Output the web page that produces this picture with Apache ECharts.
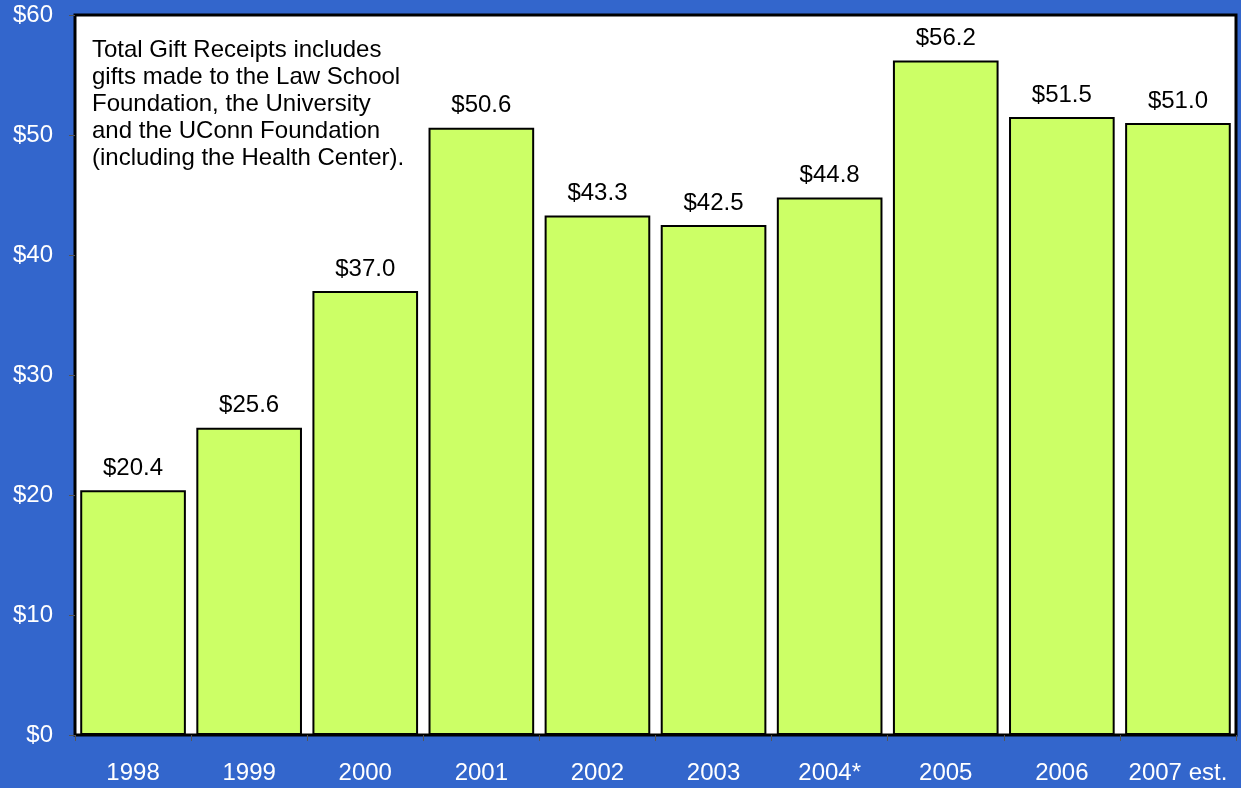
<!DOCTYPE html>
<html>
<head>
<meta charset="utf-8">
<script src="https://cdn.jsdelivr.net/npm/echarts@6/dist/echarts.min.js"></script>
<style>
  html, body { margin: 0; padding: 0; background: #3366cc; }
  #chart { width: 1241px; height: 788px; }
</style>
</head>
<body>
<div id="chart"></div>
<script>
const years = ['1998', '1999', '2000', '2001', '2002', '2003', '2004*', '2005', '2006', '2007 est.']
const gifts = [20.4, 25.6, 37.0, 50.6, 43.3, 42.5, 44.8, 56.2, 51.5, 51.0]
const noteLines = [
  'Total Gift Receipts includes',
  'gifts made to the Law School',
  'Foundation, the University',
  'and the UConn Foundation',
  '(including the Health Center).'
]

const chart = echarts.init(document.getElementById('chart'))

const option = {
  backgroundColor: '#3366cc',
  animation: false,
  textStyle: { fontFamily: 'Liberation Sans, Arial, sans-serif' },
  grid: {
    left: 75, right: 5, top: 15, bottom: 53,
    show: true,
    backgroundColor: '#ffffff',
    borderColor: '#000000',
    borderWidth: 3
  },
  graphic: [{
    type: 'text',
    left: 92,
    top: 37,
    style: {
      text: noteLines.join('\n'),
      fill: '#000',
      font: '24px Liberation Sans, Arial, sans-serif',
      lineHeight: 27
    }
  }],
  xAxis: {
    type: 'category',
    data: years,
    axisLine: { show: false },
    axisTick: { show: true, length: 6, lineStyle: { color: '#555' } },
    axisLabel: { color: '#ffffff', fontSize: 24, margin: 26, interval: 0 }
  },
  yAxis: {
    type: 'value',
    min: 0,
    max: 60,
    interval: 10,
    axisLine: { show: false },
    axisTick: { show: true, length: 6, lineStyle: { color: '#555' } },
    splitLine: { show: false },
    axisLabel: {
      color: '#ffffff',
      fontSize: 24,
      margin: 22,
      formatter: v => '$' + v
    }
  },
  series: [{
    type: 'bar',
    data: gifts,
    barCategoryGap: '9%',
    itemStyle: { color: '#ccff66', borderColor: '#000', borderWidth: 2 },
    label: {
      show: true,
      position: 'top',
      distance: 10,
      color: '#000',
      fontSize: 24,
      formatter: p => '$' + p.value.toFixed(1)
    }
  }]
}

chart.setOption(option)
</script>
</body>
</html>
